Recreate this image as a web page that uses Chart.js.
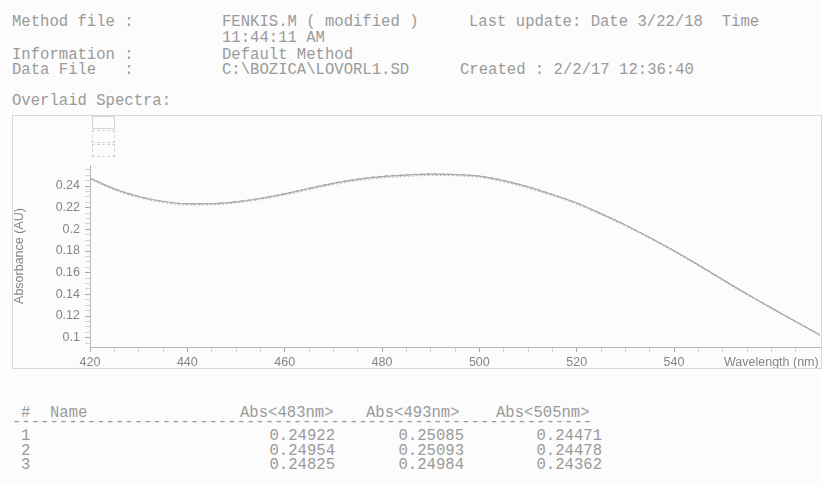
<!DOCTYPE html>
<html>
<head>
<meta charset="utf-8">
<script src="https://cdn.jsdelivr.net/npm/chart.js@4.4.1/dist/chart.umd.min.js"></script>
<style>
body{margin:0;background:#fcfcfc;width:822px;height:486px;overflow:hidden;position:relative;}
.t{position:absolute;font-family:"Liberation Mono",monospace;font-size:15.6px;line-height:16px;color:#9a9a9a;white-space:pre;}
.r{text-align:right;}
#frame{position:absolute;left:12px;top:115px;width:808px;height:252px;border:1px solid #d8d8d8;}
#wrap{position:absolute;left:12px;top:114px;width:809px;height:254px;}
.lg{position:absolute;left:92px;width:21px;height:11px;border:1px dashed #d4d4d4;}
</style>
</head>
<body>
<div class="t" style="left:12px;top:14px">Method file :</div>
<div class="t" style="left:222px;top:14px">FENKIS.M ( modified )</div>
<div class="t" style="left:469px;top:14px">Last update: Date 3/22/18  Time</div>
<div class="t" style="left:222px;top:30px">11:44:11 AM</div>
<div class="t" style="left:12px;top:47px">Information :</div>
<div class="t" style="left:222px;top:47px">Default Method</div>
<div class="t" style="left:12px;top:62px">Data File   :</div>
<div class="t" style="left:222px;top:62px">C:\BOZICA\LOVORL1.SD</div>
<div class="t" style="left:460px;top:62px">Created : 2/2/17 12:36:40</div>
<div class="t" style="left:12px;top:93px">Overlaid Spectra:</div>

<div id="frame"></div>
<div class="lg" style="top:116px;border-style:solid"></div>
<div class="lg" style="top:130px"></div>
<div class="lg" style="top:144px"></div>
<div id="wrap"><canvas id="spectra" width="809" height="254"></canvas></div>

<div id="table"></div>

<script>
// wavelengths (nm) and absorbance of the three overlaid runs
const wavelengths = [420,425,430,435,440,445,450,455,460,465,470,475,480,485,490,495,500,505,510,515,520,525,530,535,540,545,550,555,560,565,570];
const sample1 = [0.2472,0.2374,0.2303,0.2258,0.2235,0.2237,0.2254,0.2285,0.2328,0.2377,0.2425,0.2462,0.2487,0.2501,0.2509,0.2506,0.2491,0.2450,0.2392,0.2322,0.2243,0.2145,0.2040,0.1925,0.1802,0.1672,0.1536,0.1403,0.1275,0.1150,0.1025];
const sample2 = [0.2474,0.2375,0.2304,0.2259,0.2236,0.2238,0.2256,0.2287,0.2330,0.2379,0.2427,0.2464,0.2490,0.2504,0.2510,0.2507,0.2492,0.2451,0.2393,0.2323,0.2244,0.2146,0.2041,0.1926,0.1803,0.1673,0.1537,0.1404,0.1276,0.1151,0.1026];
const sample3 = [0.2463,0.2364,0.2293,0.2248,0.2225,0.2227,0.2244,0.2275,0.2318,0.2366,0.2414,0.2450,0.2475,0.2489,0.2498,0.2495,0.2480,0.2438,0.2380,0.2311,0.2232,0.2135,0.2030,0.1916,0.1793,0.1664,0.1528,0.1396,0.1268,0.1144,0.1020];

const xMajorTicks = [420,440,460,480,500,520,540];
const xMinorTicks = [425,430,435,445,450,455,465,470,475,485,490,495,505,510,515,525,530,535,545,550,555,565];
const xTitleTick = 560;
const xTitle = "Wavelength (nm)";
const yMajorTicks = [0.1,0.12,0.14,0.16,0.18,0.2,0.22,0.24];
const yMinorTicks = [0.095,0.105,0.11,0.115,0.125,0.13,0.135,0.145,0.15,0.155,0.165,0.17,0.175,0.185,0.19,0.195,0.205,0.21,0.215,0.225,0.23,0.235,0.245,0.25,0.255];

// result table
const tableHeaders = ["#", "Name", "Abs<483nm>", "Abs<493nm>", "Abs<505nm>"];
const sampleNumbers = [1, 2, 3];
const abs483 = [0.24922, 0.24954, 0.24825];
const abs493 = [0.25085, 0.25093, 0.24984];
const abs505 = [0.24471, 0.24478, 0.24362];

const pts = arr => wavelengths.map((w, i) => ({x: w, y: arr[i]}));
const tickFont = {family: "'Liberation Sans', Arial, sans-serif", size: 12.5};

new Chart(document.getElementById("spectra"), {
  type: "line",
  data: {
    datasets: [
      {data: pts(sample1), borderColor: "#ababab", borderWidth: 1.2},
      {data: pts(sample2), borderColor: "#979797", borderWidth: 1, borderDash: [4, 3]},
      {data: pts(sample3), borderColor: "#b6b6b6", borderWidth: 1, borderDash: [2, 2]}
    ]
  },
  options: {
    responsive: false,
    animation: false,
    events: [],
    layout: {padding: {top: 51, right: 1, bottom: 0, left: 0}},
    elements: {point: {radius: 0}, line: {cubicInterpolationMode: "monotone"}},
    plugins: {legend: {display: false}, tooltip: {enabled: false}},
    scales: {
      x: {
        type: "linear",
        min: 420,
        max: 570,
        afterFit: s => { s.height = 21; },
        afterBuildTicks: s => {
          s.ticks = xMajorTicks.concat(xMinorTicks, [xTitleTick]).sort((a, b) => a - b).map(v => ({value: v}));
        },
        ticks: {
          autoSkip: false,
          maxRotation: 0,
          padding: 3,
          color: "#858585",
          font: tickFont,
          callback: v => v === xTitleTick ? xTitle : (xMajorTicks.includes(v) ? String(v) : "")
        },
        grid: {
          drawOnChartArea: false,
          tickLength: 5,
          tickColor: c => (c.tick && xMajorTicks.includes(c.tick.value)) ? "#a8a8a8" : "#d4d4d4"
        },
        border: {color: "#b8b8b8"}
      },
      y: {
        min: 0.0914,
        max: 0.2594,
        afterFit: s => { s.width = 78; },
        afterBuildTicks: s => {
          s.ticks = yMajorTicks.concat(yMinorTicks).sort((a, b) => a - b).map(v => ({value: v}));
        },
        ticks: {
          autoSkip: false,
          padding: 5,
          color: "#858585",
          font: tickFont,
          callback: v => yMajorTicks.includes(v) ? String(v) : ""
        },
        grid: {
          drawOnChartArea: false,
          tickLength: 5,
          tickColor: c => (c.tick && yMajorTicks.includes(c.tick.value)) ? "#a8a8a8" : "#d4d4d4"
        },
        border: {color: "#b8b8b8"},
        title: {
          display: true,
          text: "Absorbance (AU)",
          color: "#858585",
          font: tickFont,
          padding: {top: 0, bottom: 0}
        }
      }
    }
  }
});

// table text
const table = document.getElementById("table");
function addText(txt, left, top, right) {
  const d = document.createElement("div");
  d.className = "t" + (right ? " r" : "");
  d.textContent = txt;
  d.style.top = top + "px";
  if (right) { d.style.left = (left - 120) + "px"; d.style.width = "120px"; }
  else d.style.left = left + "px";
  table.appendChild(d);
}
const headerLeft = [21, 50, 240, 366, 496];
tableHeaders.forEach((h, i) => addText(h, headerLeft[i], 405));
addText("-".repeat(62), 12, 414);
const valueRight = [335, 464, 602];
sampleNumbers.forEach((n, i) => {
  const top = 428 + i * 14.5;
  addText(String(n), 21, top);
  [abs483, abs493, abs505].forEach((col, j) => addText(col[i].toFixed(5), valueRight[j], top, true));
});
</script>
</body>
</html>
